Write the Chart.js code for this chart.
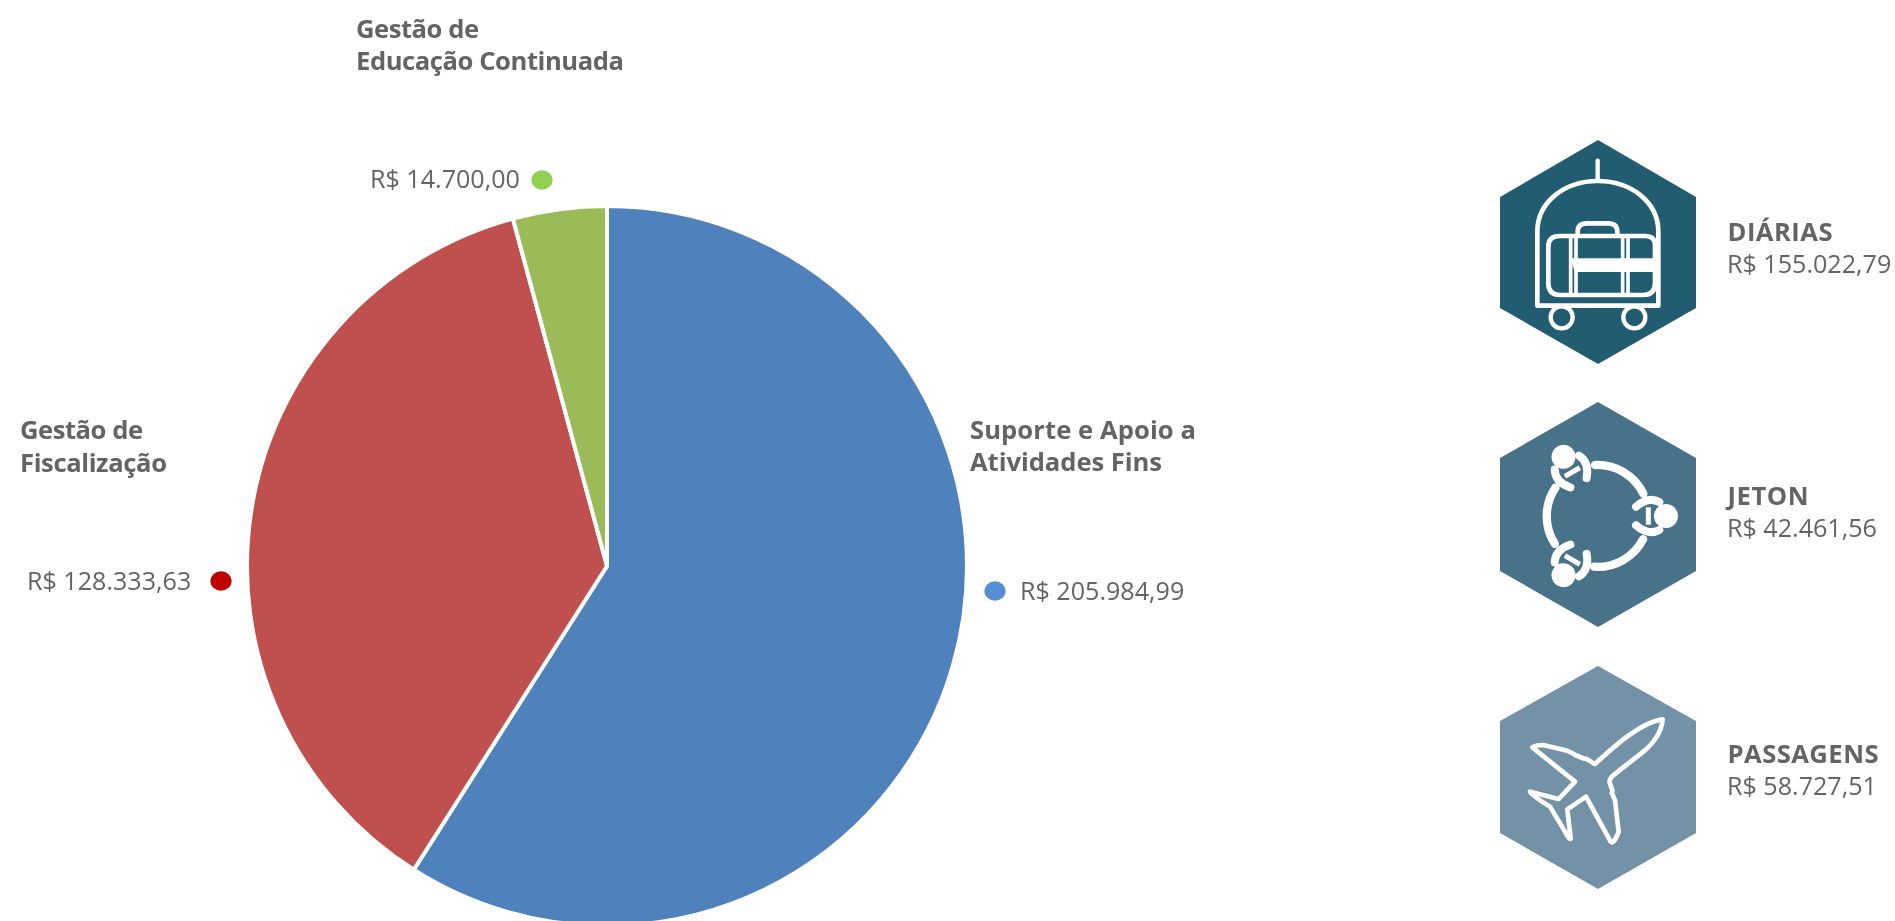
<!DOCTYPE html>
<html lang="pt-BR">
<head>
<meta charset="utf-8">
<title>Despesas</title>
<script src="https://cdn.jsdelivr.net/npm/chart.js@4"></script>
<style>
html,body{margin:0;padding:0;width:1895px;height:921px;overflow:hidden;background:#fff}
#wrap{position:absolute;left:245px;top:204px;width:724px;height:724px}
#overlay{position:absolute;left:0;top:0}
text{font-family:"Open Sans",sans-serif;fill:#636466}
.b{font-weight:700;font-size:25.6px}
.v{font-weight:400;font-size:25.1px}
</style>
</head>
<body>
<div id="wrap"><canvas id="pie" width="724" height="724"></canvas></div>
<svg id="overlay" width="1895" height="921" xmlns="http://www.w3.org/2000/svg">
  <g id="labels"></g>
  <g id="side"></g>
</svg>
<script>
const categories = ["Suporte e Apoio a Atividades Fins", "Gestão de Fiscalização", "Gestão de Educação Continuada"];
const categoryLines = [["Suporte e Apoio a", "Atividades Fins"], ["Gestão de", "Fiscalização"], ["Gestão de", "Educação Continuada"]];
const values = [205984.99, 128333.63, 14700.00];
const sliceColors = ["#4f81bd", "#c0504d", "#9bbb59"];
const dotColors = ["#558ed5", "#c00000", "#92d050"];
const expenseTypes = ["DIÁRIAS", "JETON", "PASSAGENS"];
const expenseValues = [155022.79, 42461.56, 58727.51];
const hexColors = ["#215c70", "#48718a", "#7492a7"];

const money = v => "R$ " + v.toLocaleString("pt-BR", {minimumFractionDigits: 2, maximumFractionDigits: 2});
const NS = "http://www.w3.org/2000/svg";
function el(parent, name, attrs, txt){
  const e = document.createElementNS(NS, name);
  for (const k in attrs) e.setAttribute(k, attrs[k]);
  if (txt !== undefined) e.textContent = txt;
  parent.appendChild(e);
  return e;
}

new Chart(document.getElementById("pie"), {
  type: "pie",
  data: { labels: categories, datasets: [{ data: values, backgroundColor: sliceColors, borderColor: "#ffffff", borderWidth: 4 }] },
  options: {
    responsive: false, animation: false, radius: 360,
    layout: { padding: 0 },
    plugins: { legend: { display: false }, tooltip: { enabled: false } }
  }
});

/* callout placement for the pie labels */
const titleAt = [[970, 439, 471], [20, 439, 472], [356, 38, 70]];
const titleWidths = [[226, 192], [123, 147], [123, 268]];
const valueAt = [[1020, 600], [27, 590], [370, 188]];
const dotAt = [[995, 591], [221, 581], [542, 180]];
const labels = document.getElementById("labels");
categoryLines.forEach((lines, i) => {
  el(labels, "text", {class: "b", x: titleAt[i][0], y: titleAt[i][1], textLength: titleWidths[i][0]}, lines[0]);
  el(labels, "text", {class: "b", x: titleAt[i][0], y: titleAt[i][2], textLength: titleWidths[i][1]}, lines[1]);
  el(labels, "text", {class: "v", x: valueAt[i][0], y: valueAt[i][1]}, money(values[i]));
  el(labels, "ellipse", {cx: dotAt[i][0], cy: dotAt[i][1], rx: 10.7, ry: 9.7, fill: dotColors[i]});
});

/* side panel: hexagons, icons and totals (icons drawn in 3x crop units) */
const side = document.getElementById("side");
const hexAt = [[140, 197, 308, 364], [402, 458, 571, 627], [666, 721, 833, 889]];
const sideText = [[241, 273], [505, 537], [763, 795]];
const sideWidths = [105, 81, 151];
hexAt.forEach((h, i) => {
  el(side, "polygon", {fill: hexColors[i],
    points: `1598,${h[0]} 1696,${h[1]} 1696,${h[2]} 1598,${h[3]} 1500,${h[2]} 1500,${h[1]}`});
  el(side, "text", {class: "b", x: 1727.5, y: sideText[i][0], textLength: sideWidths[i]}, expenseTypes[i]);
  el(side, "text", {class: "v", x: 1727, y: sideText[i][1]}, money(expenseValues[i]));
});
const W = {fill: "none", stroke: "#fff", "stroke-linecap": "round", "stroke-linejoin": "round"};

const i1 = el(side, "g", {transform: "translate(1480,120) scale(0.33333)"});
el(i1, "path", {...W, "stroke-width": 14, "stroke-linecap": "butt", d: "M172 557V335C172 245 255 183 353 183C452 183 535 245 535 335V557Z"});
el(i1, "path", {...W, "stroke-width": 13, d: "M353 122V180"});
el(i1, "path", {...W, "stroke-width": 14, d: "M525 415V375Q525 348 495 348H240Q205 348 205 380V490Q205 525 240 525H490Q525 525 525 490V455"});
el(i1, "path", {...W, "stroke-width": 14, d: "M293 345V335Q293 310 320 310H385Q412 310 412 335V345"});
el(i1, "path", {...W, "stroke-width": 11, "stroke-linecap": "butt", d: "M272 348V525M288 348V525M428 348V525M444 348V525"});
el(i1, "path", {fill: "#fff", d: "M272 415H532V456H284Z"});
el(i1, "circle", {...W, "stroke-width": 13, cx: 245, cy: 592, r: 33});
el(i1, "circle", {...W, "stroke-width": 13, cx: 463, cy: 592, r: 33});

const i2 = el(side, "g", {transform: "translate(1480,390) scale(0.33333)"});
[0, 120, 240].forEach(a => {
  const g = el(i2, "g", {transform: `rotate(${a} 353 378)`});
  el(g, "path", {...W, "stroke-width": 25, d: "M490 311A153 153 0 0 0 345 225"});
  el(g, "path", {...W, "stroke-width": 24, d: "M468 350Q505 318 538 336M468 406Q505 438 538 420"});
  el(g, "path", {...W, "stroke-width": 15, "stroke-linecap": "butt", d: "M505 352V404"});
  el(g, "circle", {fill: "#fff", cx: 558, cy: 378, r: 36});
});

const i3 = el(side, "g", {transform: "translate(1480,650) scale(0.33333)"});
el(i3, "path", {...W, "stroke-width": 14, d: "M548 208C510 212 470 238 430 268C400 292 370 318 345 342C335 340 330 330 318 326C308 328 300 318 288 317C280 308 272 308 262 302L190 285Q165 285 157 292L285 395L236 447L150 425Q150 432 210 470L255 545Q268 570 272 566L262 478L318 440L392 575Q400 585 416 546L405 450C400 445 402 438 395 430C402 420 392 412 390 400C385 392 392 385 395 380C430 350 460 330 490 305C520 280 545 245 548 208Z"});
</script>
</body>
</html>
